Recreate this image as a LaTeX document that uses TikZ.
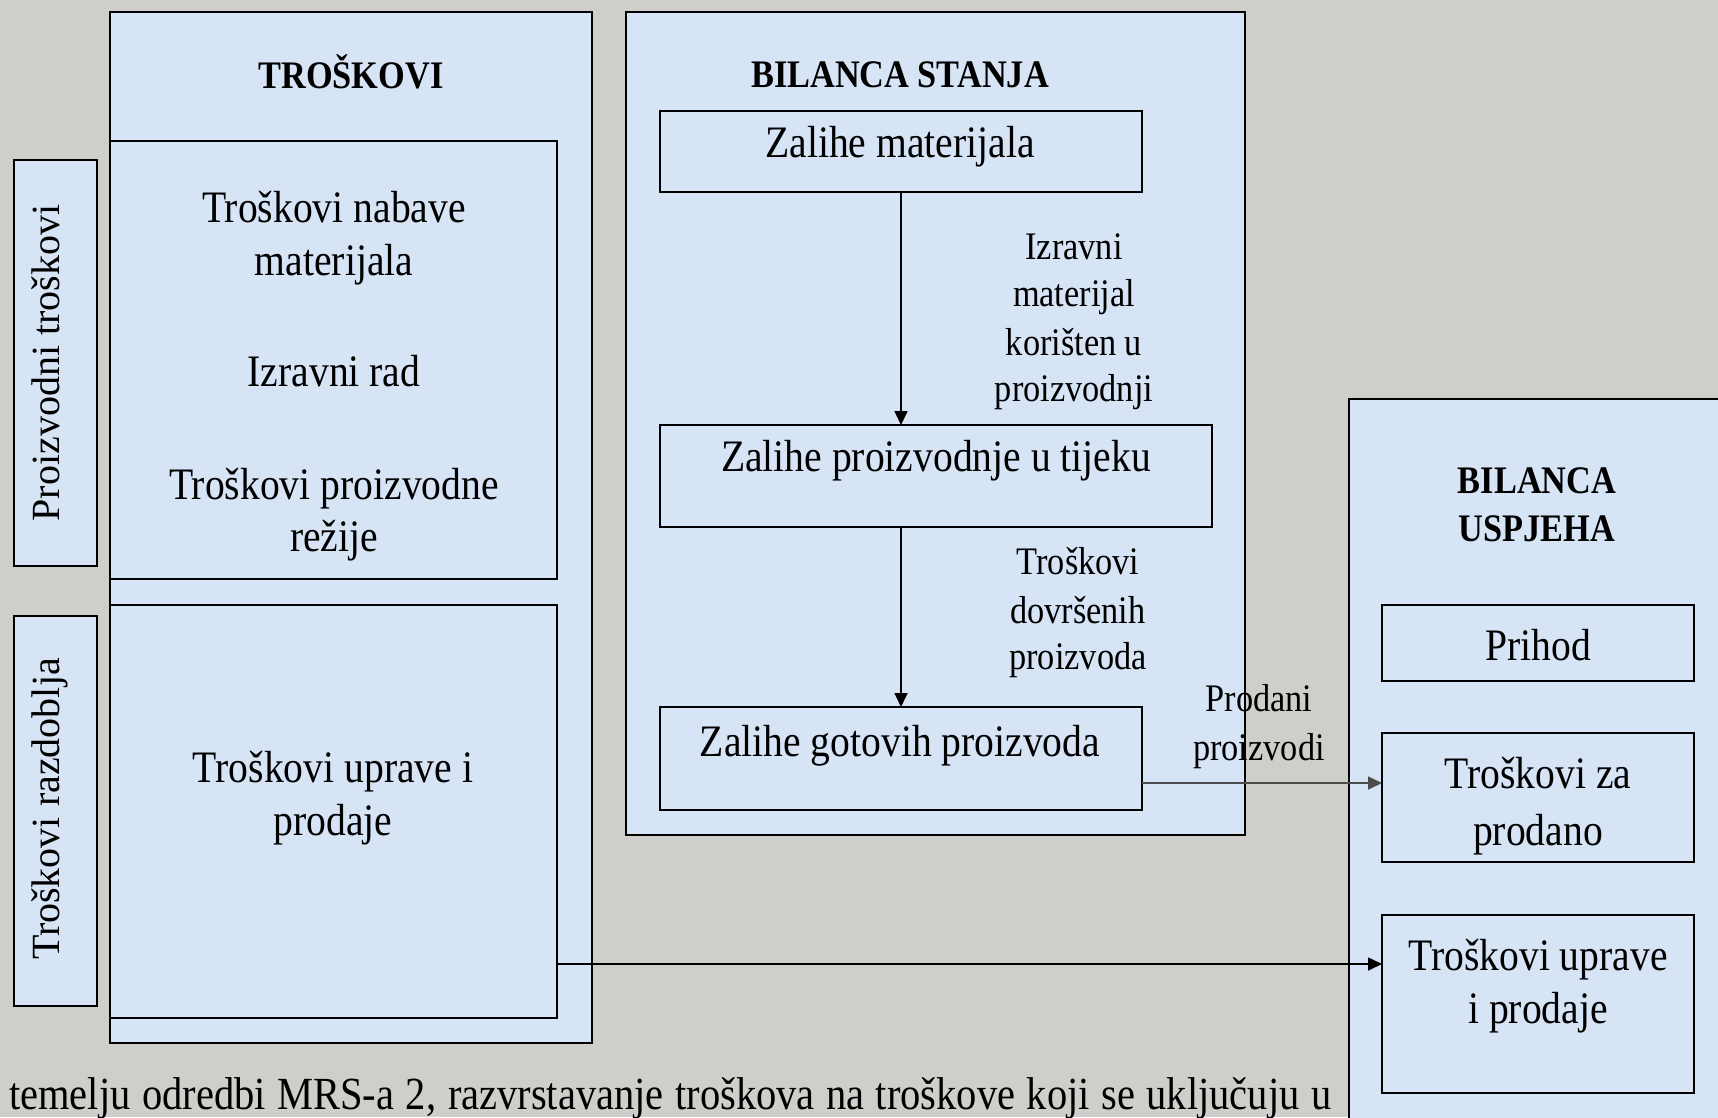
\documentclass[tikz,border=0pt]{standalone}
\usepackage{fontspec}
\setmainfont{Liberation Serif}[FakeStretch=0.88]
\newfontfamily\vfont{Liberation Serif}
\usetikzlibrary{arrows.meta,fit}
\definecolor{bgc}{RGB}{207,206,202}
\definecolor{boxc}{RGB}{214,228,245}
\begin{document}
\begin{tikzpicture}[x=1pt,y=-1pt,
  box/.style={draw=black,line width=1.6pt,fill=boxc,inner sep=0pt,outer sep=0pt},
  body/.style={font=\fontsize{45}{53}\selectfont,anchor=base,inner sep=0pt},
  lab/.style={font=\fontsize{39}{47}\selectfont,anchor=base,inner sep=0pt},
  head/.style={font=\bfseries\fontsize{39}{47}\selectfont,anchor=base,inner sep=0pt},
  vtext/.style={font=\vfont\fontsize{40}{48}\selectfont,anchor=base,inner sep=0pt,rotate=90},
  arr/.style={line width=1.6pt,-{Triangle[length=14pt,width=13pt]}}]
\useasboundingbox (0,0) rectangle (1718,1117);
\clip (0,0) rectangle (1718,1117);
\fill[bgc] (0,0) rectangle (1718,1117);

% TROSKOVI column
\node[box,fit={(110,12) (592,1043)}] (trOuter) {};
\node[box,fit={(110,141) (557,579)}] (trTop) {};
\node[box,fit={(110,605) (557,1018)}] (trBot) {};
\node[box,fit={(14,160) (97,566)}] (pvBox) {};
\node[box,fit={(14,616) (97,1006)}] (rzBox) {};

% BILANCA STANJA
\node[box,fit={(626,12) (1245,835)}] (bsOuter) {};
\node[box,fit={(660,111) (1142,192)}] (zm) {};
\node[box,fit={(660,425) (1212,527)}] (zpt) {};
\node[box,fit={(660,707) (1142,810)}] (zgp) {};

% BILANCA USPJEHA
\node[box,fit={(1349,399) (1730,1130)}] (buOuter) {};
\node[box,fit={(1382,605) (1694,681)}] (prihod) {};
\node[box,fit={(1382,733) (1694,862)}] (tzp) {};
\node[box,fit={(1382,915) (1694,1093)}] (tup) {};

% connectors
\draw[arr] (zm.south) -- (zm.south |- zpt.north);
\draw[arr] (zgp.north |- zpt.south) -- (zgp.north);
\draw[arr,draw=black!70] ([yshift=-24.5pt]zgp.east) -- ([yshift=-24.5pt]zgp.east -| tzp.west);
\draw[arr] ([yshift=-152.5pt]trBot.east) -- ([yshift=-152.5pt]trBot.east -| tup.west);

% texts
\node[head] (hTr) at (351,88) {TROŠKOVI};
\node[body] (t1a) at (334,222) {Troškovi nabave};
\node[body] (t1b) at (334,275.5) {materijala};
\node[body] (t2) at (334,386.5) {Izravni rad};
\node[body] (t3a) at (334,499) {Troškovi proizvodne};
\node[body] (t3b) at (334,551) {režije};
\node[body] (t4a) at (333,782) {Troškovi uprave i};
\node[body] (t4b) at (333,835) {prodaje};
\node[vtext] (vPv) at (59,363) {Proizvodni troškovi};
\node[vtext] (vRz) at (59,809) {Troškovi razdoblja};

\node[head] (hBs) at (900,87) {BILANCA STANJA};
\node[body] (tZm) at (900,157) {Zalihe materijala};
\node[body] (tZpt) at (936,471.5) {Zalihe proizvodnje u tijeku};
\node[body] (tZgp) at (900,756) {Zalihe gotovih proizvoda};
\node[lab] (l1a) at (1074,259) {Izravni};
\node[lab] (l1b) at (1074,306) {materijal};
\node[lab] (l1c) at (1074,355) {korišten u};
\node[lab] (l1d) at (1074,401) {proizvodnji};
\node[lab] (l2a) at (1078,574.5) {Troškovi};
\node[lab] (l2b) at (1078,623) {dovršenih};
\node[lab] (l2c) at (1078,669) {proizvoda};
\node[lab] (l3a) at (1259,711) {Prodani};
\node[lab] (l3b) at (1259,760) {proizvodi};

\node[head] (hBu1) at (1537,493) {BILANCA};
\node[head] (hBu2) at (1537,541) {USPJEHA};
\node[body] (tPr) at (1538,660) {Prihod};
\node[body] (tTz1) at (1538,788) {Troškovi za};
\node[body] (tTz2) at (1538,845) {prodano};
\node[body] (tTu1) at (1538,970) {Troškovi uprave};
\node[body] (tTu2) at (1538,1023) {i prodaje};

\node[anchor=base west,inner sep=0pt,font=\fontsize{46}{55}\selectfont] (foot) at (9,1109)
  {\makebox[1322pt][s]{temelju odredbi MRS-a 2, razvrstavanje troškova na troškove koji se uključuju u}};
\end{tikzpicture}
\end{document}
